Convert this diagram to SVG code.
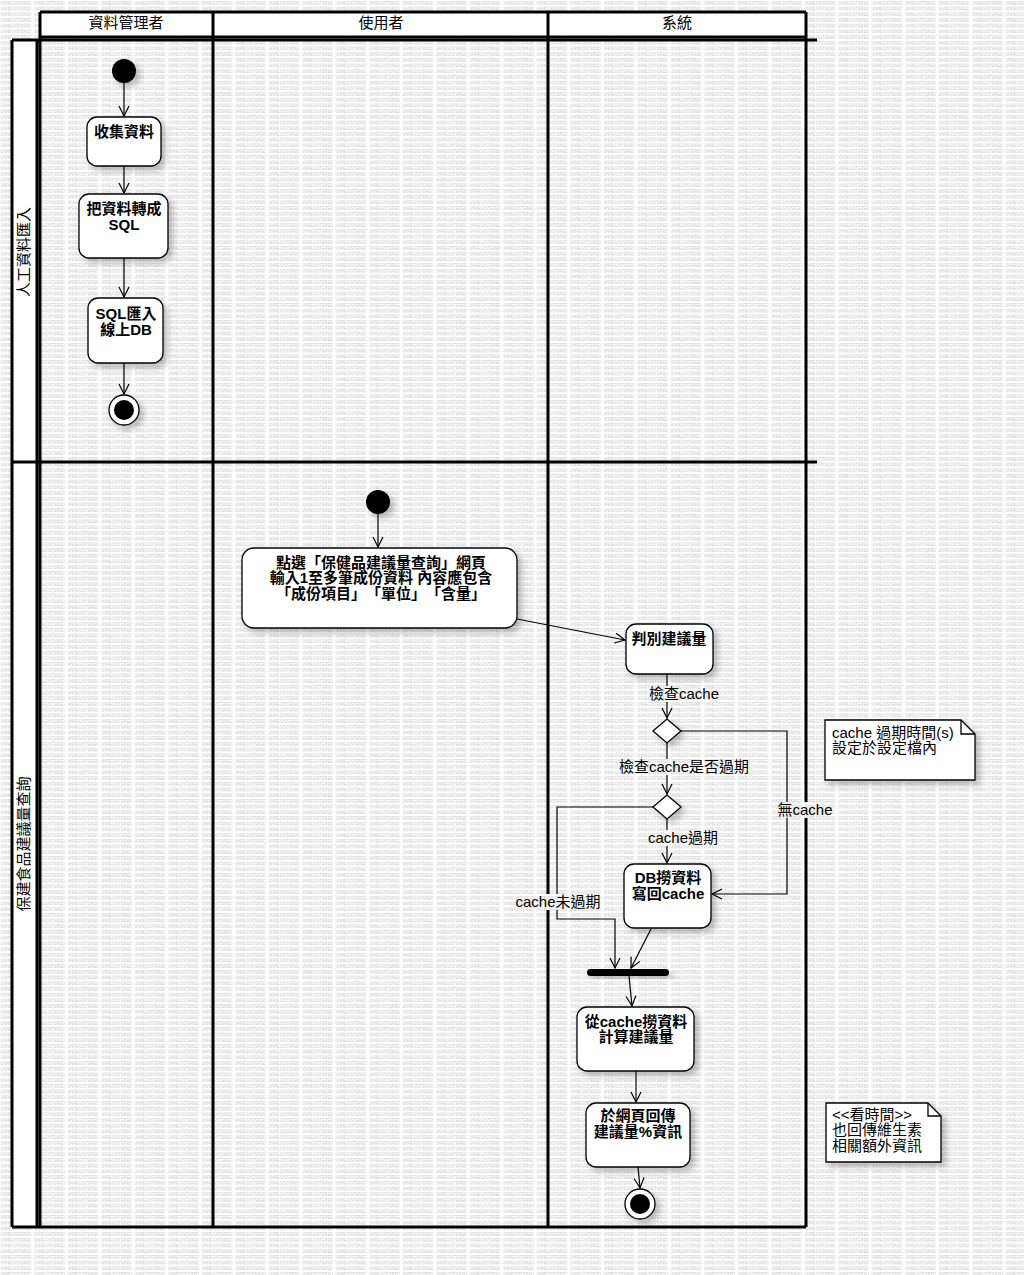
<svg xmlns="http://www.w3.org/2000/svg" width="1024" height="1275" viewBox="0 0 1024 1275">
<style>
text{text-spacing-trim:space-all}
.lane{stroke:#000;stroke-width:3;fill:none}
.hdr{font-family:"Liberation Sans","Noto Sans CJK TC",sans-serif;font-size:15px;fill:#000;text-anchor:middle}
.node{fill:#fff;stroke:#000;stroke-width:1.3;filter:url(#sh)}
.nt{font-family:"Liberation Sans","Noto Sans CJK TC",sans-serif;font-size:15px;font-weight:bold;fill:#000;text-anchor:middle}
.lbl{font-family:"Liberation Sans","Noto Sans CJK TC",sans-serif;font-size:15px;fill:#000;text-anchor:middle}
.lbg{fill:url(#wmp)}
.lbw{fill:#fff}
.note{fill:#fff;stroke:#000;stroke-width:1.3;filter:url(#sh)}
.notet{font-family:"Liberation Sans","Noto Sans CJK TC",sans-serif;font-size:15px;fill:#000}
.e{fill:none;stroke:#000;stroke-width:1.2;marker-end:url(#arr)}
.wm{font-family:"Liberation Sans",sans-serif;font-size:4.6px;fill:#c4c4c4}
</style>
<defs>
<pattern id="wmp" x="0" y="0" width="33.5" height="5.7" patternUnits="userSpaceOnUse">
<text class="wm" x="0.5" y="4.6" textLength="31" lengthAdjust="spacingAndGlyphs">UNREGISTERED</text>
</pattern>
<filter id="sh" x="-20%" y="-20%" width="150%" height="150%">
<feDropShadow dx="4" dy="4" stdDeviation="3" flood-color="#000" flood-opacity="0.25"/>
</filter>
<marker id="arr" markerWidth="14" markerHeight="14" refX="11" refY="6" orient="auto" markerUnits="userSpaceOnUse">
<path d="M1,1 L11,6 L1,11" fill="none" stroke="#000" stroke-width="1.2"/>
</marker>
</defs>
<rect x="0" y="0" width="1024" height="1275" fill="#fff"/>
<rect x="0" y="0" width="1024" height="1275" fill="url(#wmp)"/>
<g id="swimlanes">
<rect x="40" y="12" width="766" height="25" fill="#fff"/>
<rect x="12" y="40" width="25" height="1187" fill="#fff"/>
<line class="lane" x1="40" y1="12" x2="806" y2="12"/>
<line class="lane" x1="40" y1="37" x2="806" y2="37"/>
<line class="lane" x1="12" y1="40" x2="817" y2="40"/>
<line class="lane" x1="12" y1="462" x2="817" y2="462"/>
<line class="lane" x1="12" y1="1227" x2="806" y2="1227"/>
<line class="lane" x1="12" y1="40" x2="12" y2="1227"/>
<line class="lane" x1="37" y1="40" x2="37" y2="1227"/>
<line class="lane" x1="40" y1="12" x2="40" y2="1227"/>
<line class="lane" x1="213" y1="12" x2="213" y2="1227"/>
<line class="lane" x1="548" y1="12" x2="548" y2="1227"/>
<line class="lane" x1="806" y1="12" x2="806" y2="1227"/>
<text class="hdr" x="126" y="28">資料管理者</text>
<text class="hdr" x="381" y="28">使用者</text>
<text class="hdr" x="677" y="28">系統</text>
<text class="hdr" transform="translate(29,252) rotate(-90)">人工資料匯入</text>
<text class="hdr" transform="translate(29,844) rotate(-90)">保建食品建議量查詢</text>
</g>
<g id="connectors">
<line class="e" x1="124" y1="83" x2="124" y2="116"/>
<line class="e" x1="124" y1="166" x2="124" y2="193"/>
<line class="e" x1="124" y1="258" x2="124" y2="297"/>
<line class="e" x1="124" y1="363" x2="124" y2="394"/>
<line class="e" x1="378" y1="514" x2="378" y2="547"/>
<line class="e" x1="517" y1="619" x2="625" y2="640"/>
<line class="e" x1="667" y1="674" x2="667" y2="718"/>
<line class="e" x1="667" y1="743" x2="667" y2="794"/>
<polyline class="e" points="681,731 787,731 787,894 712,894"/>
<line class="e" x1="667" y1="819" x2="667" y2="863"/>
<polyline class="e" points="653,807 557,807 557,919 615,919 615,968"/>
<line class="e" x1="651" y1="929" x2="631" y2="968"/>
<line class="e" x1="629" y1="976" x2="632" y2="1006"/>
<line class="e" x1="636" y1="1071" x2="636" y2="1102"/>
<line class="e" x1="638" y1="1167" x2="640" y2="1188"/>
<rect class="lbw" x="647" y="686" width="74" height="16"/><rect class="lbg" x="647" y="686" width="74" height="16"/>
<rect class="lbw" x="616" y="759" width="136" height="16"/><rect class="lbg" x="616" y="759" width="136" height="16"/>
<rect class="lbw" x="777" y="802" width="57" height="16"/><rect class="lbg" x="777" y="802" width="57" height="16"/>
<rect class="lbw" x="646" y="830" width="74" height="16"/><rect class="lbg" x="646" y="830" width="74" height="16"/>
<rect class="lbw" x="513" y="894" width="91" height="16"/><rect class="lbg" x="513" y="894" width="91" height="16"/>
<text class="lbl" x="684" y="699">檢查cache</text>
<text class="lbl" x="684" y="772">檢查cache是否過期</text>
<text class="lbl" x="805" y="815">無cache</text>
<text class="lbl" x="683" y="843">cache過期</text>
<text class="lbl" x="558" y="907">cache未過期</text>
</g>
<g id="start1"><circle cx="124" cy="71" r="12" fill="#000" filter="url(#sh)"/></g>
<g id="n_collect"><rect class="node" x="87" y="117" width="74" height="49" rx="10"/><text class="nt" x="124" y="137">收集資料</text></g>
<g id="n_tosql"><rect class="node" x="79" y="194" width="89" height="64" rx="10"/><text class="nt" x="124" y="214">把資料轉成</text><text class="nt" x="124" y="230">SQL</text></g>
<g id="n_import"><rect class="node" x="88" y="298" width="75" height="65" rx="10"/><text class="nt" x="126" y="319">SQL匯入</text><text class="nt" x="126" y="335">線上DB</text></g>
<g id="end1"><circle cx="124" cy="410" r="15" fill="#fff" stroke="#000" stroke-width="1.3" filter="url(#sh)"/><circle cx="124" cy="410" r="10" fill="#000"/></g>
<g id="start2"><circle cx="378" cy="502" r="12" fill="#000" filter="url(#sh)"/></g>
<g id="n_click"><rect class="node" x="242" y="548" width="275" height="80" rx="12"/><text class="nt" x="381" y="568">點選「保健品建議量查詢」網頁</text><text class="nt" x="381" y="583">輸入1至多筆成份資料 內容應包含</text><text class="nt" x="381" y="599">「成份項目」「單位」「含量」</text></g>
<g id="n_judge"><rect class="node" x="626" y="624" width="87" height="50" rx="10"/><text class="nt" x="669" y="644">判別建議量</text></g>
<g id="d1"><polygon class="node" points="667,719 681,731 667,743 653,731"/></g>
<g id="d2"><polygon class="node" points="667,795 681,807 667,819 653,807"/></g>
<g id="n_db"><rect class="node" x="624" y="864" width="87" height="64" rx="10"/><text class="nt" x="668" y="883">DB撈資料</text><text class="nt" x="668" y="899">寫回cache</text></g>
<g id="join"><rect x="587" y="969" width="82" height="7" rx="3.5" fill="#000" filter="url(#sh)"/></g>
<g id="n_calc"><rect class="node" x="577" y="1007" width="117" height="64" rx="10"/><text class="nt" x="636" y="1027">從cache撈資料</text><text class="nt" x="636" y="1042">計算建議量</text></g>
<g id="n_return"><rect class="node" x="586" y="1103" width="104" height="64" rx="10"/><text class="nt" x="638" y="1121">於網頁回傳</text><text class="nt" x="638" y="1137">建議量%資訊</text></g>
<g id="end2"><circle cx="640" cy="1204" r="15" fill="#fff" stroke="#000" stroke-width="1.3" filter="url(#sh)"/><circle cx="640" cy="1204" r="10" fill="#000"/></g>
<g id="note1"><path class="note" d="M825,720 L961,720 L975,734 L975,780 L825,780 Z"/><path d="M961,720 L961,734 L975,734" fill="none" stroke="#000" stroke-width="1.3"/><text class="notet" x="832" y="738">cache 過期時間(s)</text><text class="notet" x="832" y="753">設定於設定檔內</text></g>
<g id="note2"><path class="note" d="M826,1103 L928,1103 L941,1116 L941,1162 L826,1162 Z"/><path d="M928,1103 L928,1116 L941,1116" fill="none" stroke="#000" stroke-width="1.3"/><text class="notet" x="832" y="1120">&lt;&lt;看時間&gt;&gt;</text><text class="notet" x="832" y="1135">也回傳維生素</text><text class="notet" x="832" y="1151">相關額外資訊</text></g>
</svg>
